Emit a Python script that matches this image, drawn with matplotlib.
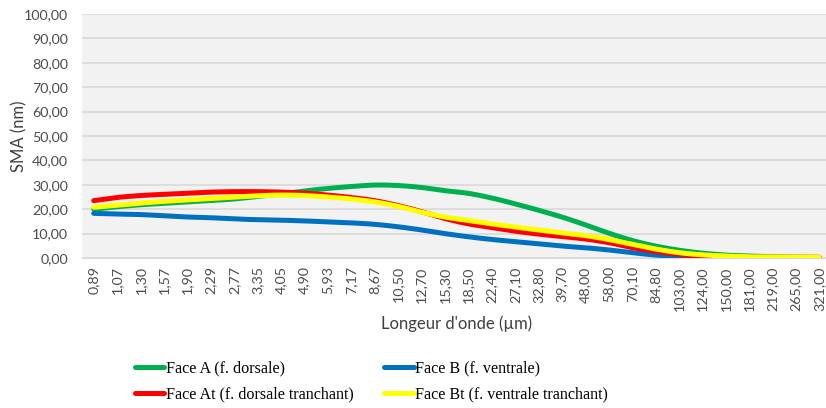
import numpy as np
import matplotlib
matplotlib.use("Agg")
import matplotlib.pyplot as plt
from matplotlib.lines import Line2D

# longueurs d'onde (catégories de l'axe x)
wavelengths = ["0,89", "1,07", "1,30", "1,57", "1,90", "2,29", "2,77", "3,35",
               "4,05", "4,90", "5,93", "7,17", "8,67", "10,50", "12,70", "15,30",
               "18,50", "22,40", "27,10", "32,80", "39,70", "48,00", "58,00", "70,10",
               "84,80", "103,00", "124,00", "150,00", "181,00", "219,00", "265,00", "321,00"]

face_a = [20.0, 21.0, 21.8, 22.4, 23.0, 23.5, 24.2, 25.2, 26.3, 27.5, 28.5, 29.3,
          29.9, 29.7, 28.9, 27.6, 26.5, 24.6, 22.2, 19.6, 16.8, 13.6, 10.2, 7.2,
          4.9, 3.2, 2.0, 1.2, 0.8, 0.5, 0.3, 0.2]
face_b = [18.3, 18.0, 17.8, 17.3, 16.8, 16.5, 16.0, 15.7, 15.5, 15.2, 14.8, 14.4,
          13.8, 12.8, 11.5, 10.0, 8.7, 7.6, 6.7, 5.8, 4.9, 4.2, 3.3, 2.2,
          1.2, 0.6, 0.3, 0.2, 0.1, 0.1, 0.1, 0.1]
face_at = [23.5, 24.8, 25.6, 26.1, 26.6, 27.0, 27.2, 27.2, 27.0, 26.6, 25.8, 24.8,
           23.5, 21.5, 19.0, 16.2, 14.0, 12.5, 11.0, 9.8, 8.8, 7.8, 6.3, 4.3,
           2.7, 1.5, 0.8, 0.4, 0.3, 0.3, 0.3, 0.3]
face_bt = [20.8, 21.6, 22.5, 23.2, 23.8, 24.4, 25.0, 25.5, 25.8, 25.6, 25.0, 24.2,
           23.0, 21.2, 18.8, 16.8, 15.4, 14.0, 12.7, 11.5, 10.3, 9.2, 7.6, 5.6,
           3.7, 2.2, 1.3, 0.8, 0.5, 0.4, 0.3, 0.3]

series = [
    ("Face A (f. dorsale)", face_a, "#00B050"),
    ("Face B (f. ventrale)", face_b, "#0070C0"),
    ("Face At (f. dorsale tranchant)", face_at, "#FF0000"),
    ("Face Bt (f. ventrale tranchant)", face_bt, "#FFFF00"),
]


def smooth(x, y, n=20):
    """ courbe lissée (Bezier type Catmull-Rom) passant par les points """
    x = np.asarray(x, float)
    y = np.asarray(y, float)
    px = np.concatenate([[x[0]], x, [x[-1]]])
    py = np.concatenate([[y[0]], y, [y[-1]]])
    t = np.linspace(0, 1, n, endpoint=False)[:, None]
    xs, ys = [], []
    for i in range(len(x) - 1):
        p0 = np.array([px[i + 1], py[i + 1]])
        p3 = np.array([px[i + 2], py[i + 2]])
        c1 = p0 + (p3 - np.array([px[i], py[i]])) / 6
        c2 = p3 - (np.array([px[i + 3], py[i + 3]]) - p0) / 6
        b = ((1 - t) ** 3) * p0 + 3 * ((1 - t) ** 2) * t * c1 + 3 * (1 - t) * t ** 2 * c2 + t ** 3 * p3
        xs.append(b[:, 0])
        ys.append(b[:, 1])
    xs.append([x[-1]])
    ys.append([y[-1]])
    return np.concatenate(xs), np.concatenate(ys)


fig = plt.figure(figsize=(8.26, 4.08), dpi=100)
ax = fig.add_axes([82 / 826, 150 / 408, 749 / 826, 244 / 408])
ax.set_facecolor("#F2F2F2")

idx = np.arange(len(wavelengths))
for label, values, color in series:
    sx, sy = smooth(idx, values)
    ax.plot(sx, sy, color=color, lw=3.6, solid_capstyle="round", zorder=3)

ax.set_xlim(-0.5, len(wavelengths) - 0.5)
ax.set_ylim(0, 100)
ax.set_yticks(np.arange(0, 101, 10))
ax.set_yticklabels([f"{v:.2f}".replace(".", ",") for v in np.arange(0, 101, 10)])
ax.set_xticks(idx)
ax.set_xticklabels(wavelengths, rotation=90)
ax.grid(axis="y", color="#D9D9D9", lw=1.2, zorder=0)
ax.set_axisbelow(True)
for side in ["top", "right", "left"]:
    ax.spines[side].set_visible(False)
ax.spines["bottom"].set_color("#D9D9D9")
ax.tick_params(length=0, labelsize=10.3, labelcolor="#4D4D4D")
ax.tick_params(axis="y", pad=10)
ax.tick_params(axis="x", pad=6)
for lab in ax.get_xticklabels() + ax.get_yticklabels():
    lab.set_family("Lato")

ax.set_xlabel("Longeur d'onde (µm)", fontsize=12, color="#404040", family="Lato", labelpad=3)
ax.set_ylabel("SMA (nm)", fontsize=12, color="#404040", family="Lato")
ax.yaxis.set_label_coords(-0.073, 0.5)

# légende sur deux colonnes : A / At puis B / Bt
order = [0, 2, 1, 3]
handles = [Line2D([], [], color=series[i][2], lw=3.6, solid_capstyle="round") for i in order]
labels = [series[i][0] for i in order]
fig.legend(handles, labels, ncol=2, loc="upper left", bbox_to_anchor=(120 / 826, 1 - 346 / 408),
           frameon=False, handlelength=1.86, handletextpad=0.1, columnspacing=1.85,
           labelspacing=0.6, prop={"family": "Liberation Serif", "size": 11.6})

fig.savefig("out.png", dpi=100, facecolor="white")
